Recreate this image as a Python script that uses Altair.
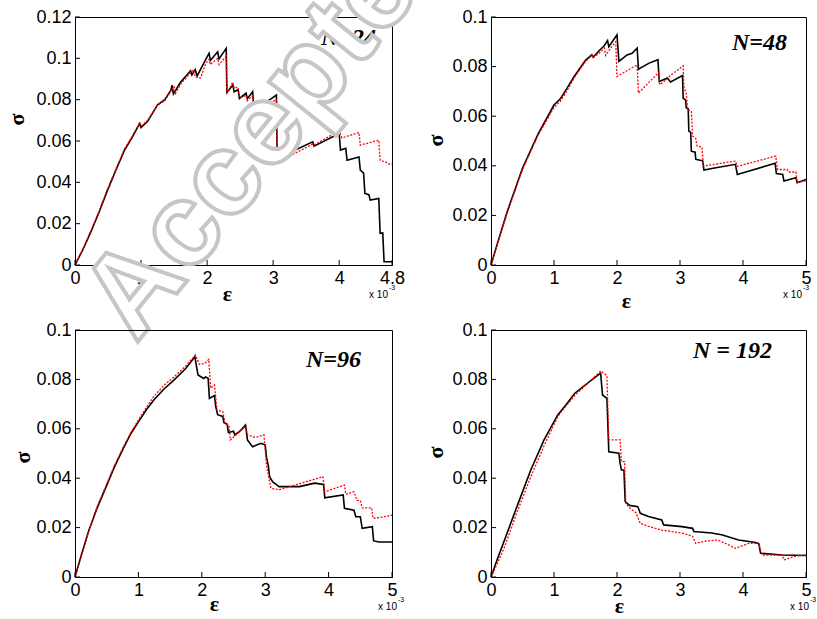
import altair as alt
import pandas as pd

# ---------------- data (eps in units of 1e-3, sigma) ----------------
X_TICKS_24 = [0, 1, 2, 3, 4, 4.8]
X_TICKS = [0, 1, 2, 3, 4, 5]
Y_TICKS_24 = [0, 0.02, 0.04, 0.06, 0.08, 0.1, 0.12]
Y_TICKS = [0, 0.02, 0.04, 0.06, 0.08, 0.1]
LABELS = ["N=24", "N=48", "N=96", "N = 192"]
WATERMARK = "Accepted"

n24_black = [(0, 0), (0.12, 0.0075), (0.24, 0.016), (0.37, 0.026), (0.49, 0.036), (0.62, 0.046),
             (0.75, 0.0556), (0.87, 0.062), (0.98, 0.0685), (1.0, 0.0665), (1.1, 0.0695),
             (1.25, 0.0775), (1.36, 0.08), (1.45, 0.0845), (1.47, 0.087), (1.49, 0.0828),
             (1.6, 0.0885), (1.75, 0.094), (1.77, 0.092), (1.82, 0.0945), (1.85, 0.0915),
             (1.98, 0.0995), (2.03, 0.1024), (2.05, 0.099), (2.16, 0.1032), (2.18, 0.0997),
             (2.29, 0.1048), (2.3, 0.0835), (2.39, 0.0871), (2.41, 0.0838), (2.47, 0.0848),
             (2.49, 0.0806), (2.59, 0.0831), (2.61, 0.0805), (2.69, 0.0839), (2.71, 0.075),
             (2.94, 0.0798), (3.05, 0.0822), (3.06, 0.0515), (3.6, 0.0596), (3.62, 0.0575),
             (4.0, 0.0636), (4.02, 0.0556), (4.1, 0.0565), (4.12, 0.0507), (4.3, 0.0523),
             (4.32, 0.0459), (4.37, 0.0445), (4.39, 0.0346), (4.45, 0.034), (4.47, 0.0314),
             (4.6, 0.0322), (4.62, 0.0153), (4.66, 0.0155), (4.68, 0.0016), (4.8, 0.0016)]
n24_red = [(0, 0), (0.12, 0.0078), (0.24, 0.0165), (0.37, 0.0265), (0.49, 0.0365), (0.62, 0.0465),
           (0.75, 0.0562), (0.87, 0.0625), (0.98, 0.069), (1.0, 0.0672), (1.1, 0.07),
           (1.25, 0.0775), (1.36, 0.0795), (1.45, 0.084), (1.5, 0.0865), (1.52, 0.083),
           (1.6, 0.0875), (1.75, 0.093), (1.8, 0.0945), (1.82, 0.091), (1.9, 0.0905),
           (1.98, 0.0975), (2.03, 0.0995), (2.05, 0.097), (2.16, 0.1), (2.18, 0.097),
           (2.29, 0.101), (2.3, 0.083), (2.39, 0.0885), (2.41, 0.0855), (2.47, 0.086),
           (2.49, 0.081), (2.59, 0.082), (2.61, 0.0795), (2.69, 0.082), (2.71, 0.0745),
           (2.94, 0.0785), (3.05, 0.080), (3.06, 0.0495), (3.6, 0.0585), (3.62, 0.058),
           (4.0, 0.065), (4.04, 0.0615), (4.3, 0.0641), (4.32, 0.058), (4.6, 0.0604),
           (4.62, 0.0507), (4.73, 0.0495), (4.75, 0.0488), (4.8, 0.049)]

n48_black = [(0, 0), (0.1, 0.0085), (0.25, 0.021), (0.5, 0.039), (0.75, 0.053), (1.0, 0.0645),
             (1.1, 0.067), (1.2, 0.071), (1.32, 0.076), (1.5, 0.0825), (1.6, 0.0848),
             (1.62, 0.0838), (1.72, 0.0865), (1.8, 0.0885), (1.85, 0.0905), (1.87, 0.088),
             (2.0, 0.0928), (2.03, 0.0821), (2.16, 0.0847), (2.24, 0.0854), (2.32, 0.0875),
             (2.34, 0.079), (2.51, 0.0814), (2.65, 0.0828), (2.67, 0.074), (2.8, 0.0754),
             (2.85, 0.0738), (3.04, 0.0764), (3.05, 0.0673), (3.09, 0.0665), (3.1, 0.0633),
             (3.13, 0.063), (3.14, 0.054), (3.17, 0.0535), (3.18, 0.0459), (3.24, 0.0455),
             (3.25, 0.0426), (3.36, 0.042), (3.38, 0.0383), (3.57, 0.0392), (3.88, 0.0406),
             (3.91, 0.0365), (4.51, 0.041), (4.53, 0.0369), (4.63, 0.0365), (4.65, 0.0339),
             (4.84, 0.0352), (4.86, 0.0332), (5.0, 0.0345)]
n48_red = [(0, 0), (0.1, 0.0083), (0.25, 0.0205), (0.5, 0.0385), (0.75, 0.0525), (1.0, 0.0635),
           (1.1, 0.066), (1.2, 0.07), (1.32, 0.0755), (1.5, 0.082), (1.6, 0.0845),
           (1.62, 0.0835), (1.72, 0.0855), (1.8, 0.0875), (1.82, 0.0845), (1.9, 0.0875),
           (1.98, 0.090), (2.0, 0.076), (2.32, 0.0807), (2.34, 0.0693), (2.66, 0.0776),
           (2.68, 0.0727), (2.8, 0.075), (2.85, 0.0765), (3.05, 0.0803), (3.06, 0.072),
           (3.1, 0.069), (3.12, 0.0627), (3.18, 0.062), (3.2, 0.052), (3.25, 0.051),
           (3.27, 0.048), (3.35, 0.0475), (3.37, 0.0399), (3.88, 0.0419), (3.91, 0.0398),
           (4.52, 0.0439), (4.55, 0.0385), (4.7, 0.0385), (4.72, 0.0375), (4.84, 0.0375),
           (4.86, 0.0332), (5.0, 0.034)]

n96_black = [(0, 0), (0.1, 0.0088), (0.22, 0.0189), (0.35, 0.028), (0.49, 0.0365), (0.62, 0.0445),
             (0.76, 0.052), (0.88, 0.058), (1.0, 0.0628), (1.12, 0.0675), (1.24, 0.0716),
             (1.4, 0.076), (1.56, 0.0797), (1.75, 0.0845), (1.89, 0.0892), (1.94, 0.0818),
             (2.03, 0.0804), (2.06, 0.081), (2.1, 0.0805), (2.12, 0.0723), (2.2, 0.0735),
             (2.22, 0.069), (2.25, 0.0657), (2.33, 0.065), (2.35, 0.0625), (2.4, 0.0618),
             (2.42, 0.0585), (2.5, 0.059), (2.52, 0.0575), (2.6, 0.059), (2.69, 0.0615),
             (2.72, 0.0555), (2.8, 0.0527), (2.93, 0.0541), (3.0, 0.0535), (3.02, 0.0485),
             (3.05, 0.045), (3.07, 0.0405), (3.12, 0.0385), (3.22, 0.0366), (3.54, 0.0366),
             (3.78, 0.038), (3.92, 0.0375), (3.94, 0.0321), (4.23, 0.0332), (4.25, 0.0278),
             (4.4, 0.027), (4.43, 0.0244), (4.5, 0.0244), (4.53, 0.0197), (4.69, 0.0204),
             (4.71, 0.0146), (4.8, 0.0142), (5.0, 0.0142)]
n96_red = [(0, 0), (0.1, 0.009), (0.22, 0.019), (0.35, 0.0285), (0.49, 0.037), (0.62, 0.045),
           (0.76, 0.0525), (0.88, 0.0585), (1.0, 0.0635), (1.12, 0.0685), (1.24, 0.073),
           (1.4, 0.0775), (1.56, 0.081), (1.75, 0.0855), (1.9, 0.0899), (1.96, 0.0861),
           (2.05, 0.0865), (2.11, 0.0881), (2.14, 0.0764), (2.2, 0.0777), (2.24, 0.0676),
           (2.33, 0.067), (2.37, 0.062), (2.43, 0.0615), (2.45, 0.0555), (2.69, 0.0609),
           (2.72, 0.0575), (2.85, 0.0565), (2.98, 0.0575), (3.02, 0.0453), (3.09, 0.0359),
           (3.22, 0.0353), (3.91, 0.0406), (3.94, 0.0345), (4.25, 0.0372), (4.27, 0.0335),
           (4.4, 0.0345), (4.45, 0.031), (4.5, 0.031), (4.53, 0.028), (4.68, 0.028),
           (4.7, 0.0238), (4.8, 0.024), (5.0, 0.0251)]

n192_black = [(0, 0), (0.1, 0.0072), (0.2, 0.014), (0.41, 0.0284), (0.63, 0.0432), (0.84, 0.0554),
              (1.06, 0.0656), (1.2, 0.070), (1.33, 0.0744), (1.6, 0.0798), (1.74, 0.0825),
              (1.77, 0.0737), (1.84, 0.0723), (1.87, 0.0507), (2.03, 0.0501), (2.05, 0.046),
              (2.07, 0.0433), (2.11, 0.0433), (2.13, 0.0305), (2.2, 0.029), (2.33, 0.0285),
              (2.37, 0.0258), (2.5, 0.0245), (2.71, 0.0231), (2.74, 0.0211), (3.03, 0.0204),
              (3.2, 0.0197), (3.22, 0.0184), (3.5, 0.0178), (3.66, 0.0171), (3.93, 0.015),
              (4.2, 0.014), (4.25, 0.0135), (4.28, 0.0096), (4.62, 0.0089), (5.0, 0.0087)]
n192_red = [(0, 0), (0.1, 0.0055), (0.2, 0.0112), (0.41, 0.026), (0.63, 0.0405), (0.84, 0.053),
            (1.06, 0.065), (1.2, 0.0695), (1.33, 0.0735), (1.6, 0.080), (1.74, 0.0834),
            (1.79, 0.0825), (1.84, 0.0815), (1.87, 0.0555), (2.05, 0.0555), (2.07, 0.0467),
            (2.12, 0.0467), (2.14, 0.0298), (2.2, 0.028), (2.3, 0.026), (2.37, 0.0217),
            (2.5, 0.0205), (2.71, 0.019), (3.03, 0.0178), (3.2, 0.0165), (3.25, 0.0136),
            (3.4, 0.0145), (3.6, 0.015), (3.77, 0.013), (3.88, 0.0116), (4.09, 0.0136),
            (4.25, 0.0136), (4.3, 0.0089), (4.62, 0.0089), (4.65, 0.0069), (4.84, 0.0085),
            (5.0, 0.0089)]


def frame(pairs):
    return pd.DataFrame({"eps": [p[0] for p in pairs],
                         "sig": [p[1] for p in pairs],
                         "i": list(range(len(pairs)))})


def panel(black, red, xmax, ymax, xticks, yticks, label, w, h,
          lab_pos, eps_title, sig_title, sx, watermark=False):
    xenc = alt.X("eps:Q", scale=alt.Scale(domain=[0, xmax], nice=False, zero=False),
                 axis=alt.Axis(values=xticks, format=".2~g", title="ε",
                               titleX=eps_title[0], titleY=eps_title[1],
                               titleAlign="center", titleBaseline="alphabetic"))
    yenc = alt.Y("sig:Q", scale=alt.Scale(domain=[0, ymax], nice=False, zero=False),
                 axis=alt.Axis(values=yticks, format=".2~f", title="σ",
                               titleX=sig_title[0], titleY=sig_title[1],
                               titleAlign="center", titleBaseline="alphabetic"))
    black_line = alt.Chart(frame(black)).mark_line(color="black", strokeWidth=1.6).encode(
        x=xenc, y=yenc, order="i:Q")
    red_line = alt.Chart(frame(red)).mark_line(color="#ff0000", strokeWidth=1.3,
                                               strokeDash=[2, 1.5]).encode(
        x=xenc, y=yenc, order="i:Q")
    xtick = alt.Chart(pd.DataFrame({"eps": xticks})).mark_rule(color="black").encode(
        x=xenc, y=alt.value(h), y2=alt.value(h - 5))
    ytick = alt.Chart(pd.DataFrame({"sig": yticks})).mark_rule(color="black").encode(
        y=yenc, x=alt.value(0), x2=alt.value(5))
    lab = alt.Chart(pd.DataFrame({"t": [label]})).mark_text(
        font="Liberation Serif", fontSize=24, fontStyle="italic", fontWeight="bold",
        align="right", baseline="alphabetic", color="black").encode(
        text="t:N", x=alt.value(lab_pos[0]), y=alt.value(lab_pos[1]))
    x10 = alt.Chart(pd.DataFrame({"t": ["x 10"]})).mark_text(
        font="Liberation Sans", fontSize=10, align="right", baseline="alphabetic",
        color="black").encode(text="t:N", x=alt.value(w + sx), y=alt.value(h + 33))
    ex = alt.Chart(pd.DataFrame({"t": ["-3"]})).mark_text(
        font="Liberation Sans", fontSize=7, align="left", baseline="alphabetic",
        color="black").encode(text="t:N", x=alt.value(w + sx + 1), y=alt.value(h + 25))
    layers = [black_line, red_line, xtick, ytick, lab, x10, ex]
    if watermark:
        wm = alt.Chart(pd.DataFrame({"t": [WATERMARK]})).mark_text(
            font="Liberation Sans", fontSize=117, fontWeight="bold", angle=309,
            align="left", baseline="alphabetic", fill="white", stroke="#c6c6c6",
            strokeWidth=4).encode(
            text="t:N", x=alt.value(61), y=alt.value(327))
        layers.append(wm)
    return alt.layer(*layers).properties(width=w, height=h)


p1 = panel(n24_black, n24_red, 4.8, 0.12, X_TICKS_24, Y_TICKS_24, LABELS[0], 317, 248,
           (301, 28), (152, 35), (-52, 102), -4, watermark=True)
p2 = panel(n48_black, n48_red, 5, 0.1, X_TICKS, Y_TICKS, LABELS[1], 315, 248,
           (296, 33), (135, 42), (-49, 123), -4)
p3 = panel(n96_black, n96_red, 5, 0.1, X_TICKS, Y_TICKS, LABELS[2], 317, 247,
           (286, 37), (139, 33), (-46, 127), 5)
p4 = panel(n192_black, n192_red, 5, 0.1, X_TICKS, Y_TICKS, LABELS[3], 315, 247,
           (281, 28), (128, 35), (-49, 122), 3)

chart = alt.concat(p1, p2, p3, p4, columns=2, bounds="flush",
                   spacing={"row": 65, "column": 99}).properties(
    padding={"left": 4, "top": -125, "right": 0, "bottom": 0}
).configure(background="white").configure_view(
    stroke="black", strokeWidth=1
).configure_axis(
    domain=True, domainColor="black", domainWidth=1, grid=False, ticks=False, tickSize=0,
    labelFont="Liberation Sans", labelFontSize=18, labelColor="black", labelPadding=4,
    labelFlush=False, labelOverlap=False,
    titleFont="Liberation Serif", titleFontSize=22, titleFontWeight="bold", titleColor="black"
)

chart.save("out.html", embed_options={"renderer": "svg", "actions": False})
